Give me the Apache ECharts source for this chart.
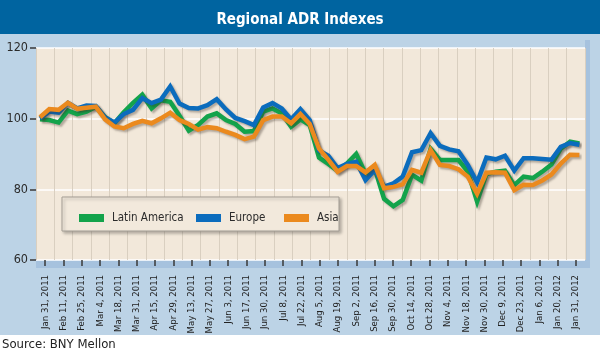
<!DOCTYPE html>
<html><head><meta charset="utf-8">
<script src="https://cdn.jsdelivr.net/npm/echarts@6/dist/echarts.min.js"></script>
<style>html,body{margin:0;padding:0;background:#fff}#c{width:600px;height:356px}</style>
</head><body><div id="c"></div><script>
const FONT = "'Liberation Sans Narrow','DejaVu Sans Condensed','Roboto Condensed',Roboto,sans-serif";
const categories = ['Jan 31, 2011','Feb 11, 2011','Feb 25, 2011','Mar 4, 2011','Mar 18, 2011','Mar 31, 2011','Apr 15, 2011','Apr 29, 2011','May 13, 2011','May 27, 2011','Jun 3, 2011','Jun 17, 2011','Jun 30, 2011','Jul 8, 2011','Jul 22, 2011','Aug 5, 2011','Aug 19, 2011','Sep 2, 2011','Sep 16, 2011','Sep 30, 2011','Oct 14, 2011','Oct 28, 2011','Nov 4, 2011','Nov 18, 2011','Nov 30, 2011','Dec 9, 2011','Dec 23, 2011','Jan 6, 2012','Jan 20, 2012','Jan 31, 2012'];
const yTicks = [60, 80, 100, 120];
const latinAmerica = [99.8,99.6,98.9,102.3,101.3,102,103.4,100.4,98.7,101.8,104.5,106.8,102.9,105.2,104.8,100.8,96.6,98.2,100.6,101.5,99.6,98.5,96.3,96.5,102,102.9,101.5,97.7,99.8,98.2,89,87.2,85.2,87.3,90,84.5,85.8,77.3,75.2,77,84.1,82.5,91.5,88.3,88.3,88.3,85,76.5,84.3,85,85.3,81.2,83.6,83.2,85,87,91.5,93.5,93];
const europe = [100.1,102,101.7,104.5,102.9,103.7,103.6,100.3,98.9,101.3,102.5,105.8,104.4,105.4,109.1,104.3,103,102.9,103.8,105.5,102.6,100.2,99.3,98.2,103.2,104.4,102.9,99.8,102.7,99.6,91,89.5,86,87.2,87.8,82.6,85.5,80.8,81.7,83.6,90.5,91.1,95.9,92.3,91.3,90.8,86.9,82,89,88.5,89.5,85.3,88.8,88.8,88.6,88.4,92,93.1,92.6];
const asia = [100.4,102.7,102.5,104.5,102.8,103.1,103.4,99.8,97.8,97.3,98.5,99.4,98.7,100.1,101.7,99.6,98.5,96.9,97.6,97.3,96.3,95.4,94.2,94.9,99.6,100.6,100.6,98.7,101.3,98.5,91.5,88.4,85,86.6,86.6,84.8,86.9,80.3,80.7,81.4,85.5,84.7,91.1,86.9,86.6,85.7,83.6,78.8,84.7,84.8,84.7,79.8,81.3,81.2,82.5,84.2,87.3,89.8,89.7];
const weeks = latinAmerica.map((_, i) => 'W' + (i + 1));
const names = ['Latin America', 'Europe', 'Asia'];
const colors = ['#13a34b', '#0b6cbd', '#eb8a1e'];

const chart = echarts.init(document.getElementById('c'), null, {renderer: 'canvas'});
const shadow = {shadowColor: 'rgba(60,50,40,0.35)', shadowBlur: 2, shadowOffsetX: 2, shadowOffsetY: 2};
function lineSeries(name, data, color) {
  return {
    name, type: 'line', data, xAxisIndex: 1, yAxisIndex: 1,
    showSymbol: false, symbol: 'none', smooth: false,
    lineStyle: Object.assign({color, width: 4.5, join: 'miter', cap: 'butt'}, shadow),
    itemStyle: {color}, z: 3
  };
}
const legendBase = {
  itemWidth: 25, itemHeight: 8, icon: 'rect', top: 207,
  textStyle: {fontFamily: FONT, fontSize: 11.5, color: '#2b2b2b', padding: [0, 0, 0, 3]},
  selectedMode: false
};
chart.setOption({
  backgroundColor: '#bcd3e6',
  animation: false,
  title: {
    text: 'Regional ADR Indexes', left: 'center', top: 8,
    textStyle: {color: '#fff', fontFamily: FONT, fontSize: 15, fontWeight: 'bold'}
  },
  graphic: [
    {type: 'rect', z: -10, shape: {x: 0, y: 0, width: 600, height: 34}, style: {fill: '#0064a0'}},
    {type: 'rect', z: -10, shape: {x: 0, y: 335, width: 600, height: 21}, style: {fill: '#ffffff'}},
    {type: 'rect', z: -10, shape: {x: 36, y: 260, width: 554, height: 8}, style: {fill: '#a6c2de'}},
    {type: 'rect', z: -10, shape: {x: 585, y: 40, width: 5, height: 228}, style: {fill: '#a6c2de'}},
    {type: 'rect', z: 3, shape: {x: 62, y: 197, width: 277, height: 34},
     style: {fill: '#f2e9dc', stroke: '#a39d94', lineWidth: 1, shadowColor: 'rgba(0,0,0,0.25)', shadowBlur: 3, shadowOffsetX: 2, shadowOffsetY: 2}},
    {type: 'text', left: 2, top: 338, style: {text: 'Source: BNY Mellon', fill: '#222', font: '13px ' + FONT}}
  ],
  legend: [
    Object.assign({}, legendBase, {left: 74, data: [names[0]]}),
    Object.assign({}, legendBase, {left: 191, data: [names[1]]}),
    Object.assign({}, legendBase, {left: 279, data: [names[2]]})
  ],
  grid: [
    {left: 36, right: 15, top: 48, bottom: 96, show: true, backgroundColor: '#f2e8da', borderWidth: 0},
    {left: 40, right: 20.6, top: 48, bottom: 96}
  ],
  xAxis: [
    {
      type: 'category', gridIndex: 0, data: categories, boundaryGap: true,
      axisLine: {show: false},
      axisTick: {show: true, alignWithLabel: true, length: 6, lineStyle: {color: '#3a3a3a', width: 1.5}},
      axisLabel: {rotate: 90, margin: 15, fontFamily: FONT, fontSize: 9.5, color: '#222', interval: 0},
      splitLine: {show: true, interval: 0, lineStyle: {color: '#d9cfc0', width: 1}}
    },
    {type: 'category', gridIndex: 1, data: weeks, boundaryGap: false, show: false}
  ],
  yAxis: [
    {
      type: 'value', gridIndex: 0, min: yTicks[0], max: yTicks[yTicks.length - 1], interval: 20,
      axisLine: {show: false},
      axisTick: {show: true, length: 6, lineStyle: {color: '#3a3a3a', width: 1.5}},
      axisLabel: {fontFamily: FONT, fontSize: 12.5, color: '#2b2b2b', margin: 8},
      splitLine: {show: true, lineStyle: {color: '#ffffff', width: 1.5}}
    },
    {type: 'value', gridIndex: 1, min: yTicks[0], max: yTicks[yTicks.length - 1], show: false}
  ],
  series: [
    lineSeries(names[0], latinAmerica, colors[0]),
    lineSeries(names[1], europe, colors[1]),
    lineSeries(names[2], asia, colors[2])
  ]
});
</script></body></html>
